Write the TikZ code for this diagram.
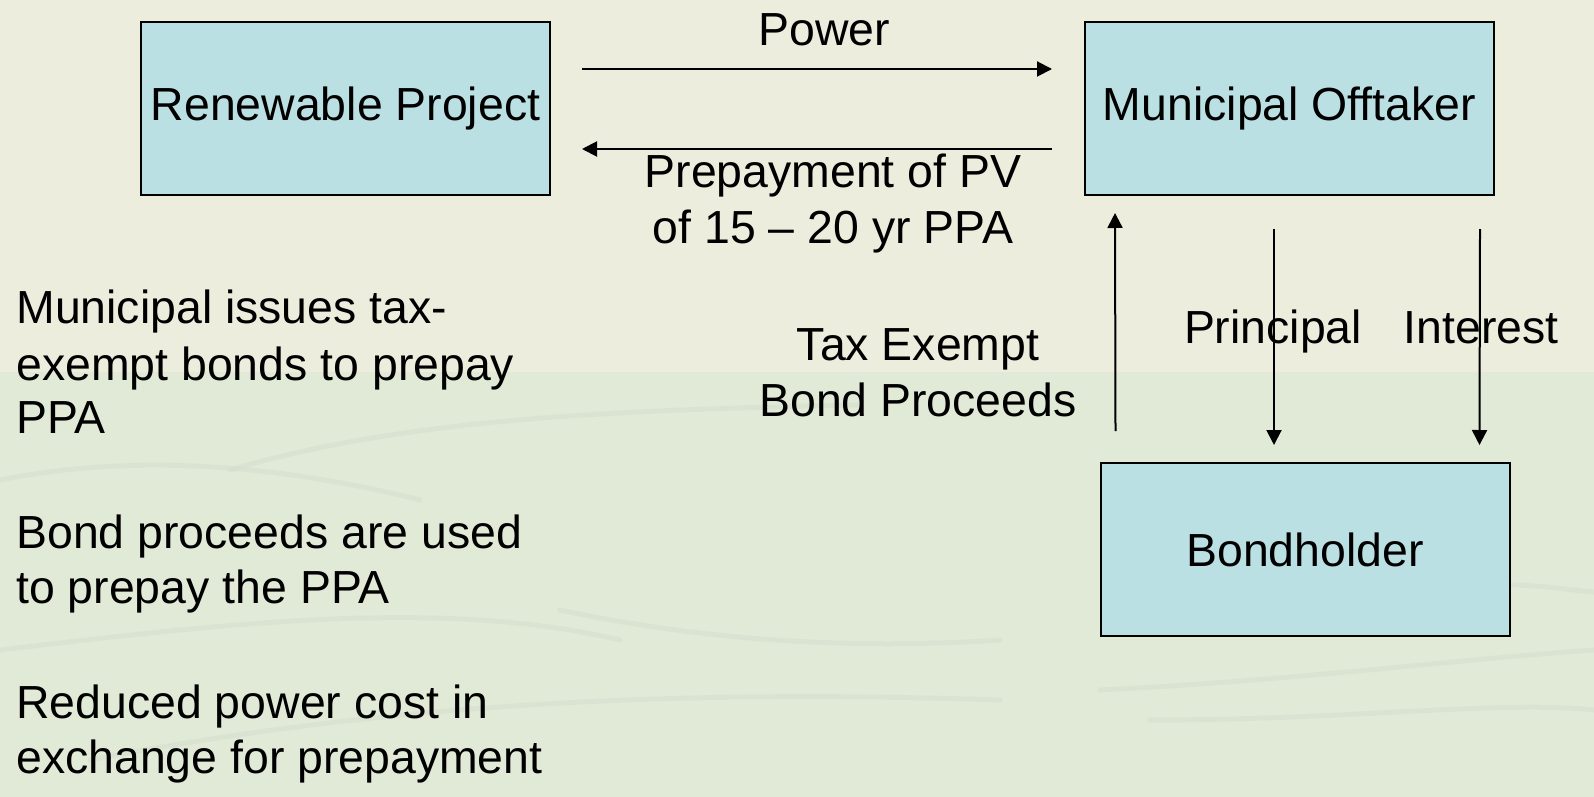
\documentclass[tikz,border=0pt]{standalone}
\usepackage{fontspec}
\setmainfont{Liberation Sans}
\usetikzlibrary{arrows.meta,calc}
\definecolor{bgtop}{HTML}{EDEDDE}
\definecolor{bgbot}{HTML}{E1EAD7}
\definecolor{swirl}{HTML}{D5DDCC}
\definecolor{boxfill}{HTML}{BBE0E3}
\tikzset{
  box/.style={draw=black, line width=1pt, fill=boxfill, minimum width=204.5pt, minimum height=86.5pt, inner sep=2pt, font=\fontsize{23.2}{27}\selectfont},
  arr/.style={line width=1pt, -{Triangle[length=7.5pt,width=7.5pt]}},
  lbl/.style={font=\fontsize{23.2}{27.5}\selectfont, inner sep=0pt, anchor=base},
  para/.style={font=\fontsize{23.2}{27.5}\selectfont, inner sep=0pt, anchor=base west}
}
\begin{document}
\begin{tikzpicture}[x=0.5pt,y=-0.5pt]
\useasboundingbox (0,0) rectangle (1594,797);
% background
\fill[bgtop] (0,0) rectangle (1594,372);
\fill[bgbot] (0,372) rectangle (1594,797);
\begin{scope}[swirl, line width=2.5pt, opacity=0.5, line cap=round]
  \draw (230,470) .. controls (400,420) and (600,410) .. (860,405);
  \draw (0,480) .. controls (150,450) and (300,470) .. (420,500);
  \draw (0,650) .. controls (250,620) and (450,600) .. (620,640);
  \draw (90,760) .. controls (400,700) and (700,690) .. (1000,700);
  \draw (1100,690) .. controls (1300,680) and (1450,660) .. (1594,650);
  \draw (1150,720) .. controls (1350,720) and (1500,700) .. (1594,710);
  \draw (560,610) .. controls (700,640) and (850,650) .. (1000,640);
  \draw (1510,585) .. controls (1540,585) and (1570,590) .. (1594,592);
\end{scope}
% boxes
\node[box] (rp) at (345.5,108.5) {\raisebox{-2pt}{Renewable Project}};
\node[box] (mo) at (1289.5,108.5) {\raisebox{-2pt}{Municipal Offtaker}};
\node[box] (bh) at (1305,549.5) {Bondholder};
% connectors
\draw[arr] ($(rp.east)+(31,-39.5)$) -- ($(mo.west)+(-32,-39.5)$);
\draw[arr] ($(mo.west)+(-32,40.5)$) -- ($(rp.east)+(31,40.5)$);
\draw[arr] ($(bh.north west)+(16,-31)$) -- ($(mo.south west)+(31,17)$);
\draw[arr] ($(mo.south)+(-15.5,33)$) -- ($(bh.north)+(-31,-17)$);
\draw[arr] ($(mo.south east)+(-15,33)$) -- ($(bh.north east)+(-31,-17)$);
% labels
\node[lbl] (lpow) at (824,46) {Power};
\node[lbl] (lpre1) at (833,187) {Prepayment of PV};
\node[lbl] (lpre2) at (833,243) {of 15 -- 20 yr PPA};
\node[lbl] (ltax1) at (918,360) {Tax Exempt};
\node[lbl] (ltax2) at (918,416) {Bond Proceeds};
\node[lbl] (lpri) at (1273,343) {Principal};
\node[lbl] (lint) at (1481,343) {Interest};
% left text
\node[para] (p1a) at (16,323) {Municipal issues tax-};
\node[para] (p1b) at (16,380) {exempt bonds to prepay};
\node[para] (p1c) at (16,433) {PPA};
\node[para] (p2a) at (16,548) {Bond proceeds are used};
\node[para] (p2b) at (16,603) {to prepay the PPA};
\node[para] (p3a) at (16,718) {Reduced power cost in};
\node[para] (p3b) at (16,773) {exchange for prepayment};
\end{tikzpicture}
\end{document}
